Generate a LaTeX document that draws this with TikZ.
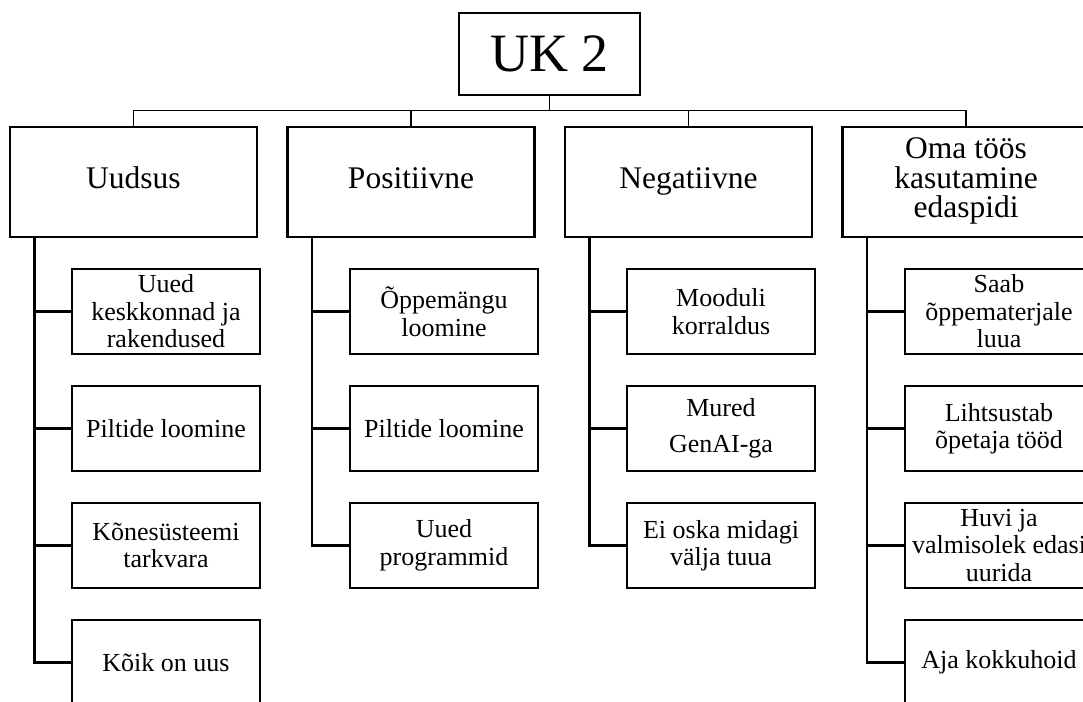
\documentclass[tikz,border=0pt]{standalone}
\usepackage{fontspec}
\setmainfont{Liberation Serif}
\begin{document}
\begin{tikzpicture}[x=1pt, y=-1pt,
  rootbox/.style={shape=rectangle, draw=black, line width=2.4pt, minimum width=181pt, minimum height=82pt, font=\fontsize{54}{54}\selectfont},
  catbox/.style={shape=rectangle, draw=black, line width=2.5pt, minimum width=247pt, minimum height=110pt, align=center, font=\fontsize{31.5}{29.5}\selectfont, execute at begin node=\strut},
  leafbox/.style={shape=rectangle, draw=black, line width=2.4pt, minimum width=188pt, minimum height=85pt, inner sep=1pt, align=center, font=\fontsize{26}{27.5}\selectfont},
  bus/.style={-, line width=1.8pt, draw=black},
  spine/.style={-, line width=2.5pt, draw=black},
  hv/.style={to path={|- (\tikztotarget)}},
  vh/.style={to path={-| (\tikztotarget)}}]
\useasboundingbox (0,0) rectangle (1083,701);
\clip (0,0) rectangle (1083,701);
\node[rootbox] (root) at (549.5,54) {UK 2};
\coordinate (bus) at (549.5,110.5);
\node[catbox] (uud) at (133.5,182) {Uudsus};
\node[catbox] (pos) at (411,182) {Positiivne};
\node[catbox] (neg) at (688.5,182) {Negatiivne};
\node[catbox] (oma) at (966,182) {Oma töös\\kasutamine\\edaspidi};
\node[leafbox] (uud1) at (166,311.5) {Uued\\keskkonnad ja\\rakendused};
\node[leafbox] (uud2) at (166,428.5) {Piltide loomine};
\node[leafbox] (uud3) at (166,545.5) {Kõnesüsteemi\\tarkvara};
\node[leafbox] (uud4) at (166,662.5) {Kõik on uus};
\node[leafbox] (pos1) at (444,311.5) {Õppemängu\\loomine};
\node[leafbox] (pos2) at (444,428.5) {Piltide loomine};
\node[leafbox] (pos3) at (444,545.5) {Uued\\programmid};
\node[leafbox] (neg1) at (721,311.5) {Mooduli\\korraldus};
\node[leafbox] (neg2) at (721,428.5) {Mured\\[8pt]GenAI-ga};
\node[leafbox] (neg3) at (721,545.5) {Ei oska midagi\\välja tuua};
\node[leafbox] (oma1) at (999,311.5) {Saab\\õppematerjale\\luua};
\node[leafbox] (oma2) at (999,428.5) {Lihtsustab\\õpetaja tööd};
\node[leafbox] (oma3) at (999,545.5) {Huvi ja\\valmisolek edasi\\uurida};
\node[leafbox] (oma4) at (999,662.5) {Aja kokkuhoid};
\path [bus] (root) edge (bus);
\path [bus] (bus) edge[vh] (uud.north);
\path [bus] (bus) edge[vh] (pos.north);
\path [bus] (bus) edge[vh] (neg.north);
\path [bus] (bus) edge[vh] (oma.north);
\path [spine] ([xshift=25.5pt]uud.south west) edge[hv] (uud1.west);
\path [spine] ([xshift=25.5pt]uud.south west) edge[hv] (uud2.west);
\path [spine] ([xshift=25.5pt]uud.south west) edge[hv] (uud3.west);
\path [spine] ([xshift=25.5pt]uud.south west) edge[hv] (uud4.west);
\path [spine] ([xshift=25.5pt]pos.south west) edge[hv] (pos1.west);
\path [spine] ([xshift=25.5pt]pos.south west) edge[hv] (pos2.west);
\path [spine] ([xshift=25.5pt]pos.south west) edge[hv] (pos3.west);
\path [spine] ([xshift=25.5pt]neg.south west) edge[hv] (neg1.west);
\path [spine] ([xshift=25.5pt]neg.south west) edge[hv] (neg2.west);
\path [spine] ([xshift=25.5pt]neg.south west) edge[hv] (neg3.west);
\path [spine] ([xshift=25.5pt]oma.south west) edge[hv] (oma1.west);
\path [spine] ([xshift=25.5pt]oma.south west) edge[hv] (oma2.west);
\path [spine] ([xshift=25.5pt]oma.south west) edge[hv] (oma3.west);
\path [spine] ([xshift=25.5pt]oma.south west) edge[hv] (oma4.west);
\end{tikzpicture}
\end{document}
